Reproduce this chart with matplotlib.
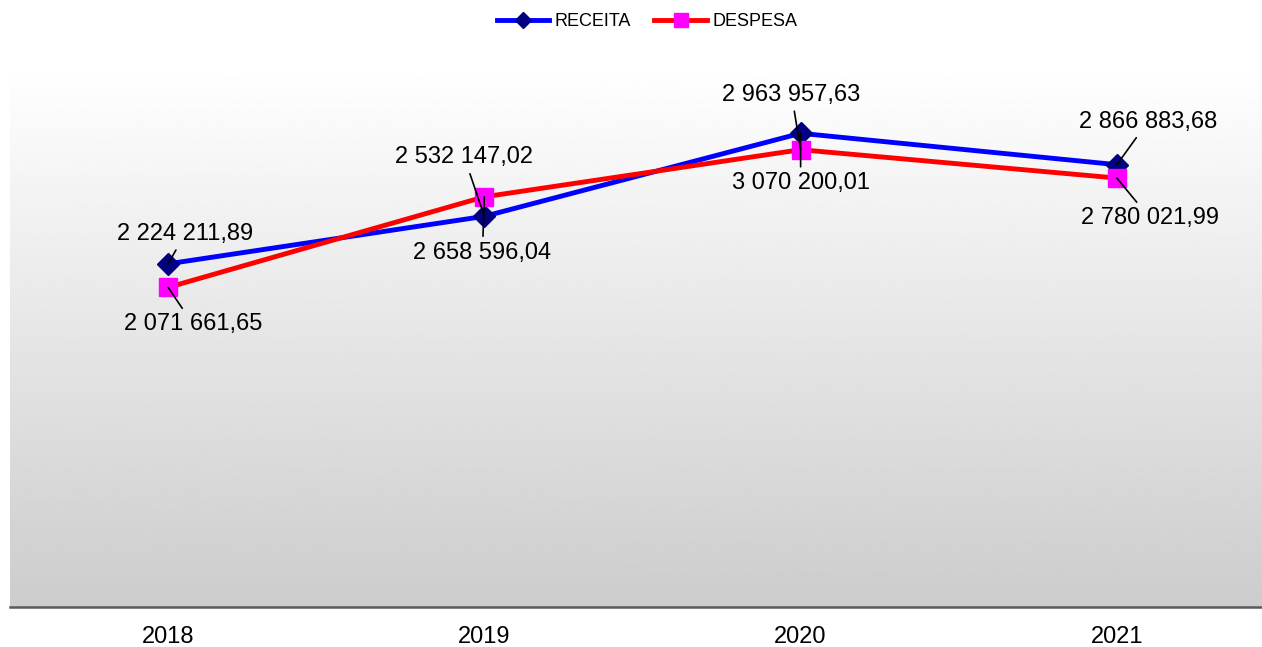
import numpy as np
import matplotlib
matplotlib.use('Agg')
import matplotlib.pyplot as plt

plt.rcParams['font.family'] = ['Liberation Sans', 'DejaVu Sans']

years = ['2018', '2019', '2020', '2021']
receita = [2224211.89, 2532147.02, 3070200.01, 2866883.68]
despesa = [2071661.65, 2658596.04, 2963957.63, 2780021.99]

# label offsets (pixels) from each point, as placed in the original
off_receita = [(17, 30), (-20, 59), (0, -50), (31, 43)]
off_despesa = [(25, -37), (-2, -56), (-9, 55), (33, -40)]


def fmt(v):
    s = f'{v:,.2f}'
    return s.replace(',', ' ').replace('.', ',')


fig = plt.figure(figsize=(12.62, 6.47), dpi=100)
ax = fig.add_axes([10 / 1262, 40 / 647, 1252 / 1262, 540 / 647])

x = np.arange(len(years))
ax.set_xlim(-0.5, 3.5 - 13 / 316.5)
ax.set_ylim(0, 3500000)

# grey gradient background
grad = np.linspace(0.8, 1.0, 256).reshape(-1, 1)
ax.imshow(grad, cmap='gray', vmin=0, vmax=1, aspect='auto', origin='lower',
          extent=[0, 1, 0, 1], transform=ax.transAxes, zorder=0)

ax.plot(x, receita, color='#0000FF', lw=3.5, marker='D', ms=11,
        mfc='#000080', mec='#000080', label='RECEITA', zorder=3)
ax.plot(x, despesa, color='#FF0000', lw=3.5, marker='s', ms=13,
        mfc='#FF00FF', mec='#FF00FF', label='DESPESA', zorder=4)

for xi, v, off in zip(x, receita, off_receita):
    ax.annotate(fmt(v), (xi, v), xytext=off, textcoords='offset pixels',
                ha='center', va='center', fontsize=17, zorder=6,
                arrowprops=dict(arrowstyle='-', color='black', lw=1.2,
                                shrinkA=2, shrinkB=0))
for xi, v, off in zip(x, despesa, off_despesa):
    ax.annotate(fmt(v), (xi, v), xytext=off, textcoords='offset pixels',
                ha='center', va='center', fontsize=17, zorder=6,
                arrowprops=dict(arrowstyle='-', color='black', lw=1.2,
                                shrinkA=2, shrinkB=0))

ax.set_xticks(x)
ax.set_xticklabels(years, fontsize=17)
ax.tick_params(axis='x', length=0, pad=14)
ax.set_yticks([])
for side in ['left', 'right', 'top']:
    ax.spines[side].set_visible(False)
ax.spines['bottom'].set_color('#5a5a5a')
ax.spines['bottom'].set_linewidth(1.8)
ax.spines['bottom'].set_zorder(5)

fig.legend(loc='center', bbox_to_anchor=(647 / 1262, 1 - 22 / 647), ncol=2,
           frameon=False, fontsize=13, handlelength=2.9, handletextpad=0.3,
           columnspacing=1.3, markerscale=0.75)

fig.savefig('out.png', dpi=100)
